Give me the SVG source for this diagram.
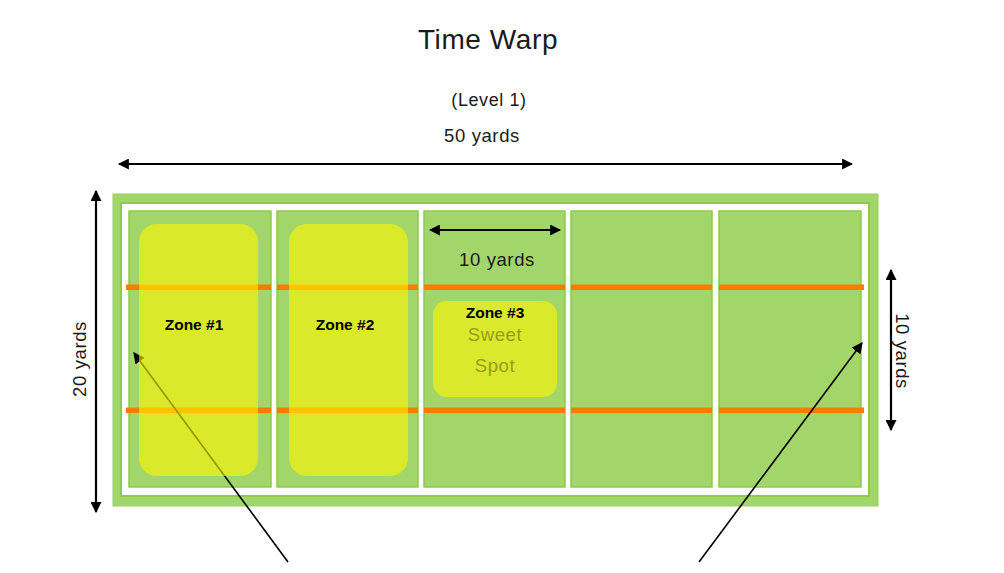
<svg xmlns="http://www.w3.org/2000/svg" width="1004" height="573" viewBox="0 0 1004 573">
<style>
.t{font-family:"Liberation Sans",Arial,sans-serif;fill:#1a1a1a;text-anchor:middle;letter-spacing:0.6px}
.cell{fill:#a2d66a;stroke:#8ccc4a;stroke-width:1.5}
.zone{fill:#fff500;fill-opacity:0.6}
.or{fill:#ff7b00}
.dim{stroke:#000;stroke-width:2.2;fill:none}
.ptr{stroke:#000;stroke-width:1.6;fill:none}
.zl{font-family:"Liberation Sans",Arial,sans-serif;font-weight:bold;font-size:15.5px;fill:#000;text-anchor:middle}
</style>
<defs>
<marker id="ah" viewBox="0 0 10 10" refX="9" refY="5" markerWidth="5" markerHeight="5" orient="auto-start-reverse" markerUnits="strokeWidth">
<path d="M0,0 L10,5 L0,10 Z" fill="#000"/>
</marker>
<marker id="ap" viewBox="0 0 10 10" refX="9" refY="5" markerWidth="7" markerHeight="7" orient="auto" markerUnits="strokeWidth">
<path d="M0,0 L10,5 L0,10 Z" fill="#000"/>
</marker>
</defs>
<rect width="1004" height="573" fill="#fff"/>
<g id="title">
<text class="t" x="488" y="49" font-size="28" fill="#262626">Time Warp</text>
<text class="t" x="489" y="106" font-size="18">(Level 1)</text>
<text class="t" x="482" y="142" font-size="18.5">50 yards</text>
</g>
<g id="field">
<rect x="113" y="194" width="765" height="312" fill="#a2d66a" stroke="#96d05a" stroke-width="1"/>
<rect x="121" y="203" width="748" height="293" fill="none" stroke="#8cc63f" stroke-width="1.5"/>
<rect x="122" y="204" width="746" height="291" fill="#fff"/>
<rect class="cell" x="129" y="211" width="142" height="276"/>
<rect class="cell" x="277" y="211" width="141" height="276"/>
<rect class="cell" x="424" y="211" width="141" height="276"/>
<rect class="cell" x="571" y="211" width="141" height="276"/>
<rect class="cell" x="719" y="211" width="142" height="276"/>
</g>
<g id="orange-lines">
<rect class="or" x="126" y="284.5" width="145" height="5.5"/>
<rect class="or" x="277" y="284.5" width="141" height="5.5"/>
<rect class="or" x="424" y="284.5" width="141" height="5.5"/>
<rect class="or" x="571" y="284.5" width="141" height="5.5"/>
<rect class="or" x="719" y="284.5" width="145" height="5.5"/>
<rect class="or" x="126" y="407.5" width="145" height="5.5"/>
<rect class="or" x="277" y="407.5" width="141" height="5.5"/>
<rect class="or" x="424" y="407.5" width="141" height="5.5"/>
<rect class="or" x="571" y="407.5" width="141" height="5.5"/>
<rect class="or" x="719" y="407.5" width="145" height="5.5"/>
</g>
<g id="connectors">
<line class="ptr" x1="288" y1="562" x2="134" y2="353" marker-end="url(#ap)"/>
<line class="ptr" x1="699" y1="562" x2="862" y2="343" marker-end="url(#ap)"/>
<line class="dim" x1="119" y1="164" x2="852" y2="164" marker-start="url(#ah)" marker-end="url(#ah)"/>
<line class="dim" x1="96" y1="191" x2="96" y2="512" marker-start="url(#ah)" marker-end="url(#ah)"/>
<line class="dim" x1="891" y1="270" x2="891" y2="430" marker-start="url(#ah)" marker-end="url(#ah)"/>
<line class="dim" x1="430" y1="230" x2="560" y2="230" marker-start="url(#ah)" marker-end="url(#ah)"/>
</g>
<g id="zone1">
<rect class="zone" x="139" y="224" width="119" height="252" rx="18"/>
<text class="zl" x="194" y="330">Zone #1</text>
</g>
<g id="zone2">
<rect class="zone" x="289" y="224" width="119" height="252" rx="18"/>
<text class="zl" x="345" y="330">Zone #2</text>
</g>
<g id="zone3">
<rect class="zone" x="433" y="301" width="124" height="96" rx="14"/>
<text class="zl" x="495" y="318" font-size="15">Zone #3</text>
<text class="t" x="495" y="341" font-size="18.5" style="fill:#9a9a1e">Sweet</text>
<text class="t" x="495" y="372" font-size="18.5" style="fill:#9a9a1e">Spot</text>
</g>
<g id="labels">
<text class="t" x="497" y="266" font-size="18.5">10 yards</text>
<text class="t" x="0" y="0" font-size="18.5" transform="translate(86,359) rotate(-90)">20 yards</text>
<text class="t" x="0" y="0" font-size="18.5" transform="translate(896,351) rotate(90)">10 yards</text>
</g>
</svg>
